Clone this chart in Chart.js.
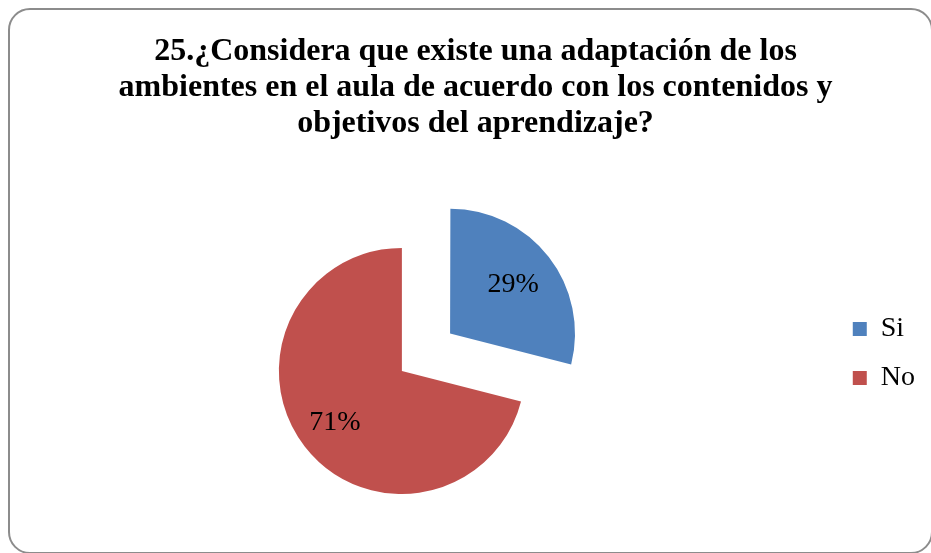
<!DOCTYPE html>
<html>
<head>
<meta charset="utf-8">
<script src="https://cdn.jsdelivr.net/npm/chart.js@4/dist/chart.umd.min.js"></script>
<style>
  html, body { margin: 0; padding: 0; background: #ffffff; overflow: hidden; }
  #wrap { position: relative; width: 931px; height: 553px; }
  #frame {
    position: absolute; left: 8px; top: 8px; width: 925px; height: 546px;
    border: 2px solid #8c8c8c; border-radius: 22px; box-sizing: border-box;
  }
  canvas { position: absolute; left: 0; top: 0; }
</style>
</head>
<body>
<div id="wrap">
  <div id="frame"></div>
  <canvas id="chart" width="931" height="553"></canvas>
</div>
<script>
const title = [
  "25.¿Considera que existe una adaptación de los",
  "ambientes en el aula de acuerdo con los contenidos y",
  "objetivos del aprendizaje?"
];
const categories = ["Si", "No"];
const percents = [29, 71];
const colors = ["#4F81BD", "#C0504D"];

// distance of the % label from the pie centre, as part of the radius
const labelRadius = [0.65, 0.69];

const pieLabels = {
  id: "pieLabels",
  afterDatasetsDraw(chart) {
    const ctx = chart.ctx;
    const meta = chart.getDatasetMeta(0);
    ctx.save();
    ctx.font = "28px 'Liberation Serif', 'Times New Roman', serif";
    ctx.fillStyle = "#000000";
    ctx.textAlign = "center";
    ctx.textBaseline = "middle";
    meta.data.forEach((arc, i) => {
      const p = arc.getProps(["x", "y", "startAngle", "endAngle", "outerRadius"], true);
      const mid = (p.startAngle + p.endAngle) / 2;
      const shift = (arc.options.offset || 0) / 4; // same shift the arc itself gets
      const r = p.outerRadius * labelRadius[i] + shift;
      ctx.fillText(percents[i] + "%", p.x + Math.cos(mid) * r, p.y + Math.sin(mid) * r);
    });
    ctx.restore();
  }
};

const chart = new Chart(document.getElementById("chart").getContext("2d"), {
  type: "pie",
  data: {
    labels: categories,
    datasets: [{
      data: percents,
      backgroundColor: colors,
      borderWidth: 0,
      offset: [244, 0] // Si slice pulled out
    }]
  },
  options: {
    responsive: false,
    animation: false,
    radius: 123,
    layout: {
      padding: { left: 26, right: 6, top: 0, bottom: 0 }
    },
    plugins: {
      tooltip: { enabled: false },
      title: {
        display: true,
        text: title,
        color: "#000000",
        font: { family: "'Liberation Serif', 'Times New Roman', serif", size: 32, weight: "bold", lineHeight: 1.125 },
        padding: { top: 34, bottom: 47 }
      },
      subtitle: {
        // empty box: keeps space between pie and legend
        display: true,
        text: " ",
        position: "right",
        weight: 500,
        fullSize: false,
        font: { size: 10, lineHeight: 1 },
        padding: { top: 0, bottom: 44 }
      },
      legend: {
        position: "right",
        align: "start",
        fullSize: false,
        title: {
          display: true,
          text: " ",
          font: { size: 10, lineHeight: 1 },
          padding: { top: 95, bottom: 0 }
        },
        labels: {
          boxWidth: 14,
          boxHeight: 14,
          padding: 21,
          color: "#000000",
          font: { family: "'Liberation Serif', 'Times New Roman', serif", size: 28 }
        }
      }
    }
  },
  plugins: [pieLabels]
});
</script>
</body>
</html>
